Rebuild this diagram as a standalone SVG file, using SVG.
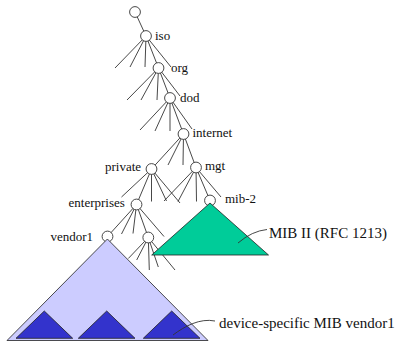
<svg xmlns="http://www.w3.org/2000/svg" width="396" height="341" viewBox="0 0 396 341">
<style>
.e{stroke:#333;stroke-width:0.9;fill:none}
.n{fill:#fff;stroke:#333;stroke-width:0.9}
text{font-family:"Liberation Serif","Times New Roman",serif;font-size:13px;fill:#111}
.big{font-size:15px}
.tri{stroke:#222;stroke-width:0.8}
</style>
<rect width="396" height="341" fill="#fff"/>
<g id="connectors">
<path class="e" d="M135,12L146,36
M146,36L115,68M146,36L130,67M146,36L145,67M146,36L158.5,68M146,36L171,67
M158.5,68L127,100M158.5,68L141,100M158.5,68L157,100M158.5,68L170,98M158.5,68L180,96
M170,98L140,130M170,98L155,131M170,98L170,131M170,98L183.5,134M170,98L192,129
M183.5,134L151.5,169M183.5,134L168,165M183.5,134L183,165M183.5,134L196,167.5
M151.5,169L121.5,197M151.5,169L136.5,204.5M151.5,169L151.5,201.5M151.5,169L166.5,201M151.5,169L180,203
M196,167.5L164,201M196,167.5L178,201.5M196,167.5L196.5,201.5M196,167.5L210,200.5M196,167.5L221,197
M136.5,204.5L107.5,236.5M136.5,204.5L121.5,234M136.5,204.5L133,233.5M136.5,204.5L148.3,237.5M136.5,204.5L164,236.5
M148.3,237.5L128.3,258.5M148.3,237.5L136.7,260M148.3,237.5L149.3,270M148.3,237.5L158.3,267M148.3,237.5L175,270"/>
</g>
<g id="root"><circle class="n" cx="135" cy="12" r="5.4"/></g>
<g id="iso"><circle class="n" cx="146" cy="36" r="5.4"/><text x="155" y="39.5">iso</text></g>
<g id="org"><circle class="n" cx="158.5" cy="68" r="5.4"/><text x="171" y="71.5">org</text></g>
<g id="dod"><circle class="n" cx="170" cy="98" r="5.4"/><text x="180" y="102">dod</text></g>
<g id="internet"><circle class="n" cx="183.5" cy="134" r="5.4"/><text x="192.5" y="137">internet</text></g>
<g id="private"><circle class="n" cx="151.5" cy="169" r="5.4"/><text x="105" y="171">private</text></g>
<g id="mgt"><circle class="n" cx="196" cy="167.5" r="5.4"/><text x="205" y="170">mgt</text></g>
<g id="enterprises"><circle class="n" cx="136.5" cy="204.5" r="5.4"/><text x="68.5" y="207">enterprises</text></g>
<g id="node2"><circle class="n" cx="148.3" cy="237.5" r="5.4"/></g>
<g id="mib-2"><circle class="n" cx="210" cy="200.5" r="5.4"/><text x="225" y="203">mib-2</text>
<polygon class="tri" points="210,203 151.7,255 268.5,255" fill="#00cc99"/></g>
<g id="vendor1"><circle class="n" cx="107.5" cy="236.5" r="5.4"/><text x="50.5" y="241">vendor1</text>
<polygon class="tri" points="107.4,239 7,340.5 208,340.5" fill="#ccccff"/>
<polygon class="tri" points="44.3,311 16,338.3 72.7,338.3" fill="#3333cc"/>
<polygon class="tri" points="106.7,311 78.3,338.3 135,338.3" fill="#3333cc"/>
<polygon class="tri" points="171.7,311 143.3,338.3 200,338.3" fill="#3333cc"/></g>
<g id="mib2-label"><path class="e" d="M238,243 Q252,231 267,229.5"/><text class="big" x="269" y="238">MIB II (RFC 1213)</text></g>
<g id="vendor-label"><path class="e" d="M173,335 C185,326 200,318 215,321"/><text class="big" x="219" y="328">device-specific MIB vendor1</text></g>
</svg>
